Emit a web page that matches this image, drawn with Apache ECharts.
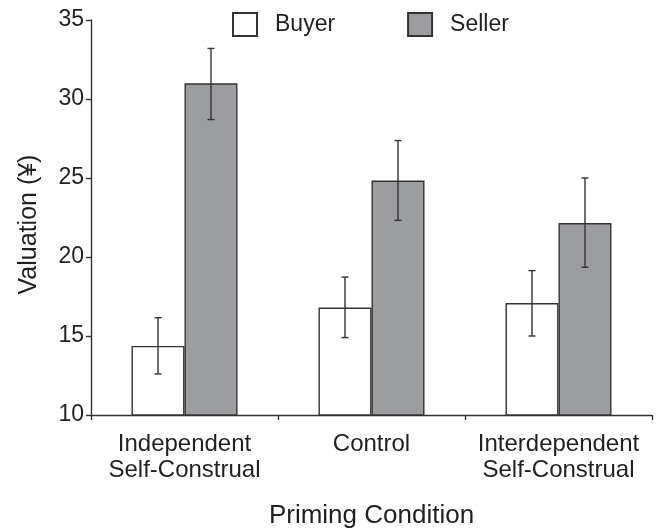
<!DOCTYPE html>
<html>
<head>
<meta charset="utf-8">
<script src="https://cdn.jsdelivr.net/npm/echarts@6/dist/echarts.min.js"></script>
<style>html,body{margin:0;padding:0;background:#fff}#c{width:656px;height:528px}</style>
</head>
<body>
<div id="c"></div>
<script>
var categories = ['Independent\nSelf-Construal', 'Control', 'Interdependent\nSelf-Construal'];
var buyerValues = [14.37, 16.8, 17.09];
var sellerValues = [30.99, 24.84, 22.15];
var buyerLow = [12.6, 14.9, 15.0];
var buyerHigh = [16.16, 18.73, 19.14];
var sellerLow = [28.7, 22.32, 19.35];
var sellerHigh = [33.2, 27.37, 25.0];
var yTicks = [10, 15, 20, 25, 30, 35];

var FONT = '"Liberation Sans", Arial, Helvetica, sans-serif';
var TXT = '#231f20';
var LINE = '#333333';
var BAR_W = 53;

function errData(low, high) {
  return categories.map(function (c, i) { return [i, low[i], high[i]]; });
}
function errSeries(name, low, high, offset) {
  return {
    type: 'custom',
    name: name + ' error',
    data: errData(low, high),
    z: 10,
    silent: true,
    encode: { x: 0, y: [1, 2] },
    renderItem: function (params, api) {
      var idx = api.value(0);
      var lo = api.coord([idx, api.value(1)]);
      var hi = api.coord([idx, api.value(2)]);
      var x = lo[0] + offset;
      var cap = 3.5;
      var st = { stroke: LINE, lineWidth: 1.4 };
      return {
        type: 'group',
        children: [
          { type: 'line', shape: { x1: x, y1: lo[1], x2: x, y2: hi[1] }, style: st },
          { type: 'line', shape: { x1: x - cap, y1: lo[1], x2: x + cap, y2: lo[1] }, style: st },
          { type: 'line', shape: { x1: x - cap, y1: hi[1], x2: x + cap, y2: hi[1] }, style: st }
        ]
      };
    }
  };
}

var chart = echarts.init(document.getElementById('c'), null, { renderer: 'canvas' });
chart.setOption({
  animation: false,
  backgroundColor: '#ffffff',
  grid: { left: 91, right: 4, top: 20, bottom: 113, containLabel: false, outerBoundsMode: 'none' },
  legend: {
    left: 232, top: 12,
    padding: 0,
    icon: 'rect',
    itemWidth: 24, itemHeight: 23,
    itemGap: 72,
    data: ['Buyer', 'Seller'],
    textStyle: { fontFamily: FONT, fontSize: 23, color: TXT, padding: [0, 0, 0, 13] }
  },
  xAxis: {
    type: 'category',
    data: categories,
    name: 'Priming Condition',
    nameLocation: 'middle',
    nameGap: 88,
    nameTextStyle: { fontFamily: FONT, fontSize: 26, color: TXT },
    axisLine: { lineStyle: { color: LINE, width: 1.4 } },
    axisTick: { show: true, length: 5, inside: false, lineStyle: { color: LINE, width: 1.4 } },
    axisLabel: { interval: 0, fontFamily: FONT, fontSize: 24, color: TXT, lineHeight: 26, margin: 16 },
    splitLine: { show: false }
  },
  yAxis: {
    type: 'value',
    min: yTicks[0], max: yTicks[yTicks.length - 1], interval: 5,
    name: 'Valuation (¥)',
    nameLocation: 'middle',
    nameGap: 49,
    nameTextStyle: { fontFamily: FONT, fontSize: 25, color: TXT, padding: [0, 14, 0, 0] },
    axisLine: { show: true, lineStyle: { color: LINE, width: 1.4 } },
    axisTick: { show: true, length: 5, lineStyle: { color: LINE, width: 1.4 } },
    axisLabel: { fontFamily: FONT, fontSize: 23, color: TXT, margin: 7 },
    splitLine: { show: false }
  },
  series: [
    {
      name: 'Buyer', type: 'bar', data: buyerValues,
      barWidth: BAR_W, barGap: '0%',
      itemStyle: { color: '#ffffff', borderColor: LINE, borderWidth: 1.4 }
    },
    {
      name: 'Seller', type: 'bar', data: sellerValues,
      barWidth: BAR_W, barGap: '0%',
      itemStyle: { color: '#9c9da0', borderColor: LINE, borderWidth: 1.4 }
    },
    errSeries('Buyer', buyerLow, buyerHigh, -BAR_W / 2),
    errSeries('Seller', sellerLow, sellerHigh, BAR_W / 2)
  ]
});
</script>
</body>
</html>
